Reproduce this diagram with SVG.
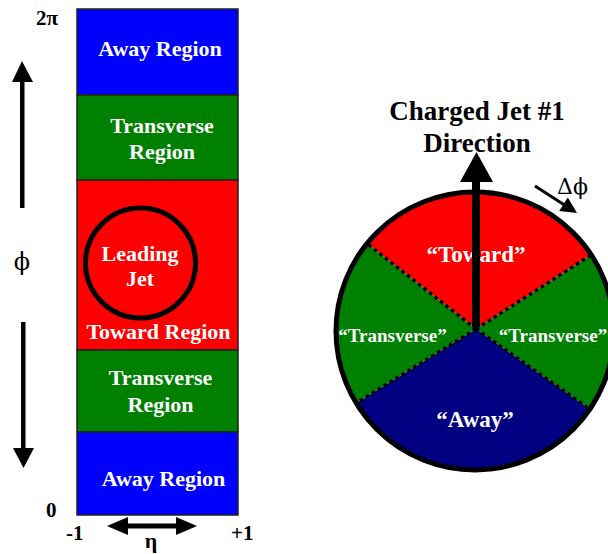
<svg xmlns="http://www.w3.org/2000/svg" width="608" height="554" viewBox="0 0 608 554">
  <style>
    text { font-family: "Liberation Serif", "Times New Roman", serif; font-weight: bold; }
    .w { fill: #ffffff; text-anchor: middle; }
    .k { fill: #000000; }
    .band { stroke: #222222; stroke-width: 1.5; }
    .dot { stroke: #000000; stroke-width: 3.5; stroke-dasharray: 3.5 3.5; fill: none; }
    .sym { font-family: "DejaVu Serif", "Liberation Serif", serif; font-weight: normal; }
  </style>

  <!-- eta-phi strip -->
  <g id="away-top">
    <rect class="band" x="77" y="9" width="161" height="86" fill="#0000ff"/>
    <text class="w" x="160" y="56" font-size="22">Away Region</text>
  </g>
  <g id="transverse-top">
    <rect class="band" x="77" y="95" width="161" height="85" fill="#008000"/>
    <text class="w" x="162" y="133" font-size="22">Transverse</text>
    <text class="w" x="162" y="159" font-size="22">Region</text>
  </g>
  <g id="toward">
    <rect class="band" x="77" y="180" width="161" height="170" fill="#ff0000"/>
    <circle cx="140.5" cy="263" r="55" fill="none" stroke="#000000" stroke-width="5"/>
    <text class="w" x="140" y="261" font-size="22">Leading</text>
    <text class="w" x="140" y="286" font-size="22">Jet</text>
    <text class="w" x="158.5" y="339" font-size="22">Toward Region</text>
  </g>
  <g id="transverse-bottom">
    <rect class="band" x="77" y="350" width="161" height="82" fill="#008000"/>
    <text class="w" x="160.5" y="385" font-size="22">Transverse</text>
    <text class="w" x="160.5" y="412" font-size="22">Region</text>
  </g>
  <g id="away-bottom">
    <rect class="band" x="77" y="432" width="161" height="83" fill="#0000ff"/>
    <text class="w" x="163.5" y="486" font-size="22">Away Region</text>
  </g>

  <!-- axis labels -->
  <g id="axes">
    <text class="k" x="36" y="25" font-size="21">2π</text>
    <text class="k" x="46" y="517" font-size="21">0</text>
    <text class="k" x="66" y="540" font-size="21">-1</text>
    <text class="k" x="231" y="540" font-size="21">+1</text>
    <text class="k" x="151" y="548" font-size="22" text-anchor="middle">η</text>
    <text class="k sym" x="22" y="270" font-size="24" text-anchor="middle">ϕ</text>
  </g>

  <!-- axis arrows -->
  <g id="connectors">
    <rect x="20" y="80" width="4.5" height="128" fill="#000000"/>
    <polygon points="22,61 33,82 12,82" fill="#000000"/>
    <rect x="21" y="322" width="4.5" height="128" fill="#000000"/>
    <polygon points="23.5,468 34,448 13,448" fill="#000000"/>
    <rect x="126" y="523.5" width="52" height="5" fill="#000000"/>
    <polygon points="107,526 128,517 128,535" fill="#000000"/>
    <polygon points="197,526 176,517 176,535" fill="#000000"/>
  </g>

  <!-- azimuthal regions around the jet axis -->
  <g id="phi-disc">
    <path id="sector-toward" d="M476,329 L367,243.5 A139,139 0 0 1 591.3,254.8 Z" fill="#ff0000"/>
    <path id="sector-transverse-right" d="M476,329 L591.3,254.8 A139,139 0 0 1 589.9,409.3 Z" fill="#008000"/>
    <path id="sector-away" d="M476,329 L589.9,409.3 A139,139 0 0 1 356.2,403.1 Z" fill="#000080"/>
    <path id="sector-transverse-left" d="M476,329 L356.2,403.1 A139,139 0 0 1 367,243.5 Z" fill="#008000"/>
    <circle cx="475" cy="331" r="139" fill="none" stroke="#000000" stroke-width="5"/>
    <line class="dot" x1="476" y1="329" x2="367" y2="243.5"/>
    <line class="dot" x1="476" y1="329" x2="591.3" y2="254.8"/>
    <line class="dot" x1="476" y1="329" x2="589.9" y2="409.3"/>
    <line class="dot" x1="476" y1="329" x2="356.2" y2="403.1"/>
    <text class="w" x="476" y="262" font-size="23">“Toward”</text>
    <text class="w" x="392.5" y="342" font-size="19">“Transverse”</text>
    <text class="w" x="553" y="342" font-size="19">“Transverse”</text>
    <text class="w" x="475" y="427" font-size="23">“Away”</text>
  </g>

  <!-- jet direction arrow -->
  <g id="jet-axis">
    <rect x="472" y="178" width="8" height="149" fill="#000000"/>
    <polygon points="476.5,152 493,182 460,182" fill="#000000"/>
    <text class="k" x="477" y="120" font-size="27" text-anchor="middle">Charged Jet #1</text>
    <text class="k" x="477" y="152" font-size="27" text-anchor="middle">Direction</text>
  </g>

  <g id="delta-phi">
    <line x1="535" y1="186" x2="566" y2="206" stroke="#000000" stroke-width="3"/>
    <polygon points="577,213 559.2,211 567.8,197.6" fill="#000000"/>
    <text class="k sym" x="557" y="194" font-size="22">Δϕ</text>
  </g>
</svg>
